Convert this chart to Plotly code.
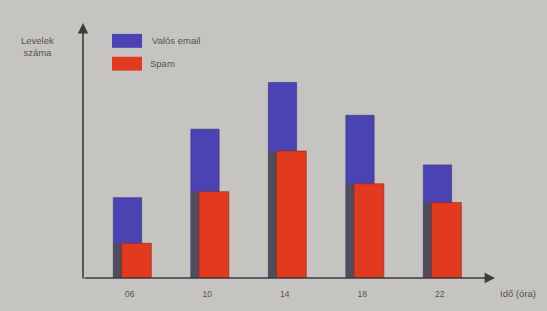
import plotly.graph_objects as go

hours = ["06", "10", "14", "18", "22"]
valos_email = [81, 150, 197, 164, 114]
spam = [35, 87, 128, 95, 76]

BG = "#c6c4c0"
BLUE = "#4b43b3"
RED = "#e2391f"
SHADOW = "#4f4c5c"
AXIS = "#3c3a3c"
TEXT = "#555353"

idx = list(range(len(hours)))
blue_x = [i for i in idx]
red_x = [i + 0.115 for i in idx]

fig = go.Figure()
fig.add_trace(go.Bar(x=blue_x, y=valos_email, width=0.365, name="Valós email",
                     marker=dict(color=BLUE, line=dict(color="#35307a", width=0.6)),
                     showlegend=False))
fig.add_trace(go.Bar(x=blue_x, y=spam, width=0.365, name="shadow",
                     marker=dict(color=SHADOW, line=dict(width=0)),
                     showlegend=False, hoverinfo="skip"))
fig.add_trace(go.Bar(x=red_x, y=spam, width=0.385, name="Spam",
                     marker=dict(color=RED, line=dict(color="#8a2a1a", width=0.6)),
                     showlegend=False))

L, R, T, B = 83, 52, 23, 31
W, H = 547, 311
pw, ph = W - L - R, H - T - B

def px(x):
    return (x - L) / pw

def py(y):
    return (H - B - y) / ph

fig.update_layout(
    width=W, height=H,
    margin=dict(l=L, r=R, t=T, b=B),
    paper_bgcolor=BG, plot_bgcolor=BG,
    barmode="overlay",
    xaxis=dict(range=[-0.574, 4.742], showgrid=False, zeroline=False, showline=False,
               tickvals=[i + 0.03 for i in idx], ticktext=hours, ticks="",
               ticklabelstandoff=9,
               tickfont=dict(family="Liberation Sans", size=8.5, color=TEXT)),
    yaxis=dict(range=[0, ph], showgrid=False, zeroline=False, showline=False,
               showticklabels=False, ticks=""),
    font=dict(family="Liberation Sans", color=TEXT),
)

# axes with arrows
fig.add_annotation(x=0, y=1, xref="paper", yref="paper", ax=0, ay=ph,
                   axref="pixel", ayref="pixel", showarrow=True, arrowhead=2,
                   arrowsize=1.3, arrowwidth=1.6, arrowcolor=AXIS, text="")
fig.add_annotation(x=1, y=0, xref="paper", yref="paper", ax=-pw, ay=0,
                   axref="pixel", ayref="pixel", showarrow=True, arrowhead=2,
                   arrowsize=1.3, arrowwidth=1.6, arrowcolor=AXIS, text="")

# axis titles
fig.add_annotation(x=px(37), y=py(47), xref="paper", yref="paper",
                   xanchor="center", yanchor="middle",
                   text="Levelek<br>száma", showarrow=False,
                   font=dict(size=9.5, color=TEXT), align="center")
fig.add_annotation(x=px(518), y=py(296), xref="paper", yref="paper",
                   xanchor="center", yanchor="middle",
                   text="Idő (óra)", showarrow=False,
                   font=dict(size=9.5, color=TEXT))

# legend
fig.add_shape(type="rect", xref="paper", yref="paper",
              x0=px(112), x1=px(142), y0=py(48), y1=py(34),
              fillcolor=BLUE, line=dict(width=0))
fig.add_shape(type="rect", xref="paper", yref="paper",
              x0=px(112), x1=px(142), y0=py(71), y1=py(57),
              fillcolor=RED, line=dict(width=0))
fig.add_annotation(x=px(150), y=py(41), xref="paper", yref="paper",
                   text="Valós email", showarrow=False, xanchor="left", yanchor="middle",
                   font=dict(size=9.5, color=TEXT))
fig.add_annotation(x=px(148), y=py(64), xref="paper", yref="paper",
                   text="Spam", showarrow=False, xanchor="left", yanchor="middle",
                   font=dict(size=9.5, color=TEXT))

fig.write_html("out.html", config={"displayModeBar": False},
               post_script="document.body.style.margin='0';document.body.style.background='%s';" % BG)
